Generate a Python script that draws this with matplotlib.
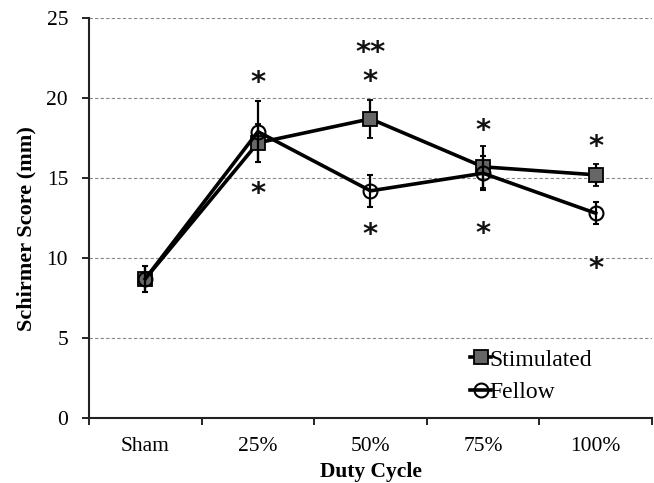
import matplotlib
matplotlib.use("Agg")
import matplotlib.pyplot as plt
from matplotlib.lines import Line2D
import matplotlib.transforms as mtransforms
import numpy as np

categories = ["Sham", "25%", "50%", "75%", "100%"]
stimulated = [8.7, 17.2, 18.7, 15.7, 15.2]
stimulated_err = [0.8, 1.2, 1.2, 1.3, 0.7]
fellow = [8.7, 17.9, 14.2, 15.3, 12.8]
fellow_err = [0.8, 1.9, 1.0, 1.05, 0.7]
# significance markers: (category index, y value, label)
sig_marks = [(1, 21.1, "*"), (1, 14.2, "*"),
             (2, 23.0, "**"), (2, 21.2, "*"), (2, 11.6, "*"),
             (3, 18.1, "*"), (3, 11.7, "*"),
             (4, 17.1, "*"), (4, 9.5, "*")]
yticks = [0, 5, 10, 15, 20, 25]

plt.rcParams['font.family'] = ['Liberation Serif', 'DejaVu Serif']

fig = plt.figure(figsize=(6.54, 4.83), dpi=100)
ax = fig.add_axes([0.136, 0.1346, 0.861, 0.828])

x = np.arange(len(categories))
sq_style = dict(color='black', lw=2.6, marker='s', markersize=10.5,
                markerfacecolor='#666666', markeredgecolor='black',
                markeredgewidth=1.3)
ci_style = dict(color='black', lw=2.6, marker='o', markersize=10,
                markerfacecolor='none', markeredgecolor='black',
                markeredgewidth=1.5)
ax.errorbar(x, stimulated, yerr=stimulated_err, elinewidth=1.6, capsize=2,
            capthick=1.6, ecolor='black', zorder=3, **sq_style)
ax.errorbar(x, fellow, yerr=fellow_err, elinewidth=1.6, capsize=2,
            capthick=1.6, ecolor='black', zorder=4, **ci_style)

off = mtransforms.offset_copy(ax.transData, fig=fig, x=0, y=-3, units='dots')
for xi, yv, lab in sig_marks:
    ax.text(xi, yv, lab, ha='center', va='center', fontsize=21,
            family=['DejaVu Sans'], fontweight='bold', color='#111111',
            transform=off)

ax.set_xlim(-0.5, len(categories) - 0.5)
ax.set_ylim(0, 25)
ax.set_yticks(yticks)
ax.set_xticks(x)
ax.set_xticklabels(categories)
ax.set_xticks(np.arange(-0.5, len(categories)), minor=True)
ax.tick_params(axis='x', which='major', length=0, pad=14, labelsize=15.5)
ax.tick_params(axis='x', which='minor', length=5, width=1.2, direction='out')
ax.tick_params(axis='y', length=5, width=1.2, labelsize=15.5, pad=10)

ax.yaxis.grid(True, linestyle=(0, (3, 2)), color='#888888', lw=0.8)
ax.set_axisbelow(True)
for s in ['top', 'right']:
    ax.spines[s].set_visible(False)
for s in ['left', 'bottom']:
    ax.spines[s].set_linewidth(1.5)
    ax.spines[s].set_color('#222222')

ax.set_xlabel('Duty Cycle', fontsize=15.5, fontweight='bold', labelpad=4)
ax.set_ylabel('Schirmer Score (mm)', fontsize=16, fontweight='bold')
ax.yaxis.set_label_coords(-0.093, 0.4725)

handles = [Line2D([0], [0], **sq_style), Line2D([0], [0], **ci_style)]
leg = ax.legend(handles, ['Stimulated', 'Fellow'], loc='center left',
                bbox_to_anchor=(0.677, 0.105), frameon=False,
                fontsize=17, handlelength=0.9, handletextpad=-0.1,
                labelspacing=0.45, borderaxespad=0, borderpad=0)

fig.savefig('out.png', dpi=100)
